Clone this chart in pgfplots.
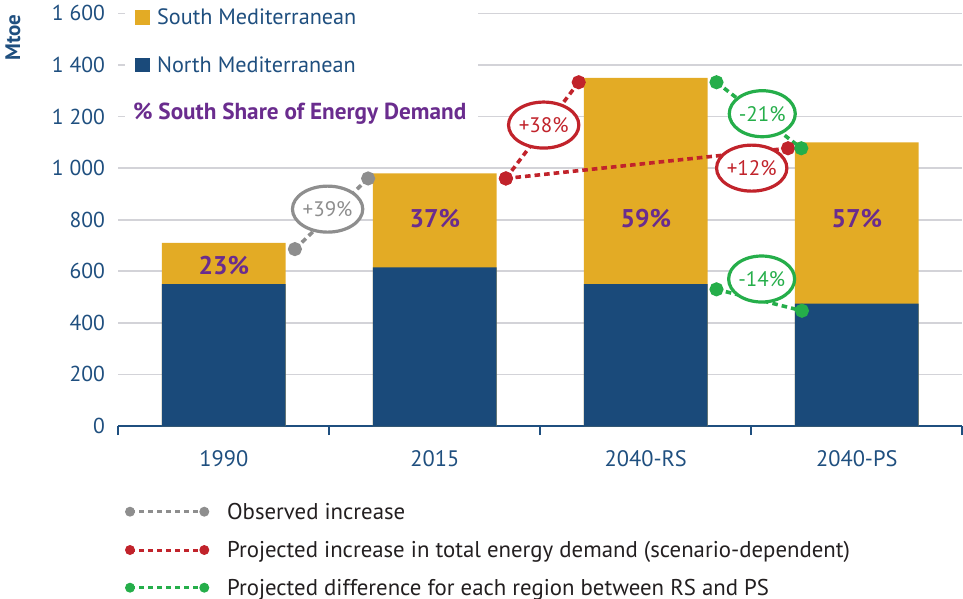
\documentclass[border=0pt]{standalone}
\usepackage{fontspec}
\setmainfont{PT Sans}
\usepackage{pgfplots}
\pgfplotsset{compat=1.18}
\usetikzlibrary{shapes.geometric}
\definecolor{ylw}{HTML}{E3AB25}
\definecolor{nblue}{HTML}{1A4A7A}
\definecolor{tblue}{HTML}{1F4F7F}
\definecolor{purp}{HTML}{6A2C8E}
\definecolor{gry}{HTML}{8E8E8E}
\definecolor{rd}{HTML}{C1232B}
\definecolor{grn}{HTML}{25AE4A}
\definecolor{gridc}{HTML}{D3D3D8}
\definecolor{txt}{HTML}{231F20}
\tikzset{
  pct/.style={ellipse, draw=#1, line width=1.6pt, fill=white, minimum width=33pt,
    minimum height=23pt, inner sep=0pt, text=#1, font=\fontsize{10.5}{12}\selectfont},
  barlab/.style={font=\bfseries\fontsize{12.8}{14}\selectfont, text=purp},
  dline/.style={line width=1.8pt, dash pattern=on 2.8pt off 2pt, mark=*, mark size=2.6pt,
    mark options={solid, fill=#1, draw=none}, color=#1},
}
\begin{document}
\begin{tikzpicture}
\begin{axis}[
  at={(59.15pt,-213pt)}, anchor=south west,
  scale only axis, width=422pt, height=206.3pt,
  xmin=-0.5, xmax=3.5, ymin=0, ymax=1600,
  clip=false,
  axis x line*=bottom, axis y line*=left,
  x axis line style={tblue, line width=1pt, -},
  y axis line style={draw=none},
  tick align=outside,
  xtick={0,1,2,3}, xticklabels={1990,2015,2040-RS,2040-PS},
  major x tick style={draw=none},
  minor xtick={-0.5,0.5,1.5,2.5,3.5},
  minor x tick style={tblue, line width=1pt},
  minor tick length=4.5pt,
  major tick length=0pt,
  ytick={0,200,...,1600}, ytick style={draw=none},
  ymajorgrids, grid style={gridc, line width=0.9pt},
  xticklabel style={font=\fontsize{11.2}{13}\selectfont, text=tblue, anchor=center, yshift=-16.5pt},
  yticklabel style={font=\fontsize{10.8}{12}\selectfont, text=tblue, anchor=east, xshift=-3.2pt},
  /pgf/number format/.cd, assume math mode=true, 1000 sep={\ },
]
% totals (South + North) and North
\addplot[ybar, bar width=0.587, bar shift=0pt, fill=ylw, draw=none] coordinates {(0,710) (1,980) (2,1350) (3,1100)};
\addplot[ybar, bar width=0.587, bar shift=0pt, fill=nblue, draw=none] coordinates {(0,550) (1,615) (2,550) (3,475)};
\fill[white] (axis cs:-0.468,1128) rectangle (axis cs:1.204,1720);
% change lines
\addplot[dline=gry] coordinates {(0.337,686) (0.684,960)};
\addplot[dline=rd] coordinates {(1.337,960) (1.682,1333)};
\addplot[dline=rd] coordinates {(1.337,960) (2.674,1077)};
\addplot[dline=grn] coordinates {(2.335,1333) (2.737,1077)};
\addplot[dline=grn] coordinates {(2.335,530) (2.740,447)};
\node[pct=gry] at (axis cs:0.492,841) {+39\%};
\node[pct=rd] at (axis cs:1.516,1167) {+38\%};
\node[pct=grn] at (axis cs:2.552,1211) {-21\%};
\node[pct=rd] at (axis cs:2.502,1000) {+12\%};
\node[pct=grn] at (axis cs:2.549,570) {-14\%};
\node[barlab] at (axis cs:0,624) {23\%};
\node[barlab] at (axis cs:1,803) {37\%};
\node[barlab] at (axis cs:2,806) {59\%};
\node[barlab] at (axis cs:3,806) {57\%};
\end{axis}
\begin{scope}[x=0.5pt,y=-0.5pt]
  \fill[ylw] (135,10) rectangle (150,25);
  \fill[nblue] (135,58) rectangle (150,72);
  \node[anchor=base west, inner sep=0pt, text=tblue, font=\fontsize{11.1}{13}\selectfont] at (156.7,25) {South Mediterranean};
  \node[anchor=base west, inner sep=0pt, text=tblue, font=\fontsize{11.1}{13}\selectfont] at (156.7,72.5) {North Mediterranean};
  \node[anchor=base west, inner sep=0pt, text=purp, font=\bfseries\fontsize{11.6}{13}\selectfont] at (132.7,119.7) {\% South Share of Energy Demand};
  \node[rotate=90, inner sep=0pt, text=tblue, font=\bfseries\fontsize{10.5}{12}\selectfont] at (13,37.5) {Mtoe};
  \foreach \c/\yy/\t in {gry/511.7/Observed increase,
      rd/550/Projected increase in total energy demand (scenario-dependent),
      grn/587.7/Projected difference for each region between RS and PS}{
    \draw[\c, line width=1.5pt, dash pattern=on 2.5pt off 2pt] (130,\yy) -- (204.3,\yy);
    \fill[\c] (130,\yy) circle (2.5pt) (204.3,\yy) circle (2.5pt);
    \node[anchor=base west, inner sep=0pt, text=txt, font=\fontsize{11.4}{13}\selectfont] at (226.7,\yy+7.7) {\t};
  }
\end{scope}
\pgfresetboundingbox
\path[use as bounding box] (0,0) rectangle (481.5pt,-299.5pt);
\end{tikzpicture}
\end{document}
